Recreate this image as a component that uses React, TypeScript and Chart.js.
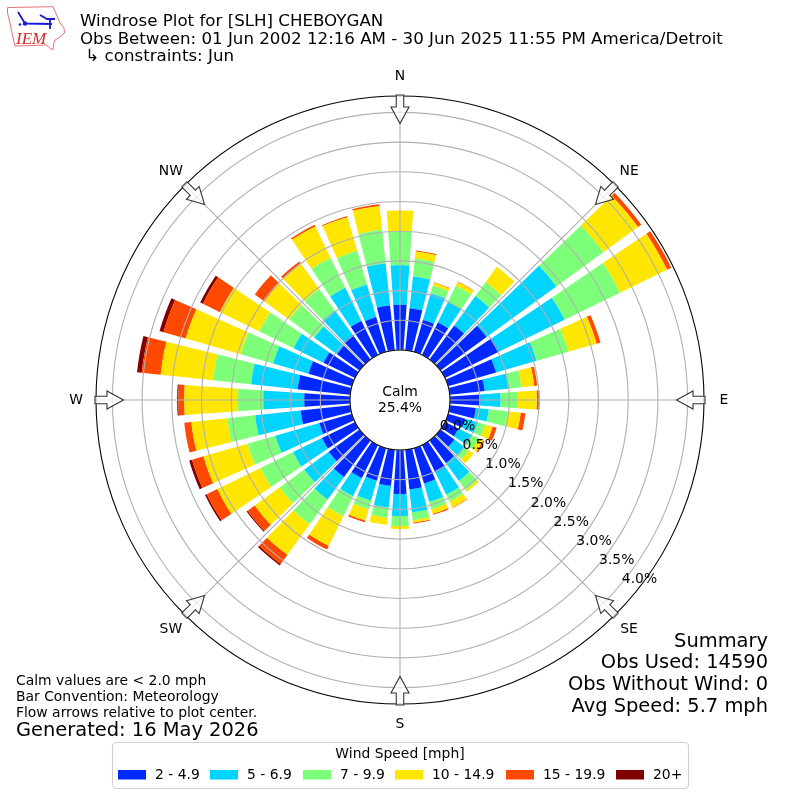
import React, { useEffect, useRef } from "react";
import { Chart, registerables, PolarAreaController } from "chart.js";

const compassLabels = ["N", "NE", "E", "SE", "S", "SW", "W", "NW"];
const directions = [0, 10, 20, 30, 40, 50, 60, 70, 80, 90, 100, 110, 120, 130, 140, 150, 160, 170, 180, 190, 200, 210, 220, 230, 240, 250, 260, 270, 280, 290, 300, 310, 320, 330, 340, 350];
const speedLabels = ["2 - 4.9", "5 - 6.9", "7 - 9.9", "10 - 14.9", "15 - 19.9", "20+"];
const speedColors = ["#0028ff", "#00d4ff", "#7dff7a", "#ffe600", "#ff4800", "#800000"];
const s2to5 = [.76, .71, .56, .61, .71, .96, 1.01, .84, .59, .51, .44, .30, .25, .29, .47, .51, .62, .67, .74, .61, .57, .62, .76, .64, .62, .57, .84, .77, .89, .76, .59, .47, .51, .64, .61, .76];
const s5to7 = [.67, .54, .47, .39, .61, 1.45, 1.23, .71, .40, .34, .22, .22, .25, .20, .37, .42, .32, .39, .37, .37, .35, .34, .47, .51, .54, .77, .77, .69, .79, .62, .56, .47, .51, .62, .57, .71];
const s7to10 = [.57, .30, .13, .30, .29, .98, 1.04, .56, .22, .29, .32, .13, .13, .10, .19, .13, .13, .13, .17, .17, .15, .37, .51, .51, .61, .49, .47, .44, .64, .57, .64, .52, .45, .56, .59, .57];
const s10to15 = [.35, .12, .05, .07, .32, .72, .88, .49, .22, .32, .22, .13, .08, .10, .04, .11, .08, .04, .05, .12, .20, .56, .64, .52, .81, .77, .61, .89, .89, .96, .74, .52, .52, .59, .59, .40];
const s15to20 = [0, .02, .01, .01, 0, .07, .08, .07, .05, .05, .08, .07, .03, 0, 0, .01, .02, .02, 0, 0, .03, .07, .19, .15, .20, .20, .12, .10, .32, .39, .32, .20, .05, .03, .02, .03];
const s20plus = [0, 0, 0, 0, 0, 0, 0, 0, 0, 0, 0, 0, 0, 0, 0, 0, 0, 0, 0, 0, 0, 0, .03, .02, .03, .05, 0, .02, .08, .07, .05, 0, 0, 0, 0, 0];
const seriesValues = [s2to5, s5to7, s7to10, s10to15, s15to20, s20plus];
const radialTicks = [0, 0.5, 1, 1.5, 2, 2.5, 3, 3.5, 4];

const titleLines = [
  "Windrose Plot for [SLH] CHEBOYGAN",
  "Obs Between: 01 Jun 2002 12:16 AM - 30 Jun 2025 11:55 PM America/Detroit",
  " ↳ constraints: Jun",
];
const summaryLines = ["Summary", "Obs Used: 14590", "Obs Without Wind: 0", "Avg Speed: 5.7 mph"];
const noteLines = ["Calm values are < 2.0 mph", "Bar Convention: Meteorology", "Flow arrows relative to plot center."];
const generatedText = "Generated: 16 May 2026";
const calmLines = ["Calm", "25.4%"];
const legendTitle = "Wind Speed [mph]";

const BAR_WIDTH_DEG = 8;
const FONT = '"DejaVu Sans"';
const R_MIN = -50 / 59.4;
const R_MAX = 254 / 59.4;

class StackedRoseController extends PolarAreaController {
  static id = "stackedRose";
  updateElements(arcs: any[], start: number, count: number, mode: any) {
    const scale = (this as any)._cachedMeta.rScale;
    const datasets = this.chart.data.datasets;
    const own = datasets[this.index].data as number[];
    for (let i = start; i < start + count; i++) {
      let base = 0;
      for (let k = 0; k < this.index; k++) base += Number(datasets[k].data[i]);
      const mid = ((directions[i] - 90) * Math.PI) / 180;
      const half = ((BAR_WIDTH_DEG / 2) * Math.PI) / 180;
      this.updateElement(
        arcs[i],
        i,
        {
          x: scale.xCenter,
          y: scale.yCenter,
          innerRadius: scale.getDistanceFromCenterForValue(base),
          outerRadius: scale.getDistanceFromCenterForValue(base + own[i]),
          startAngle: mid - half,
          endAngle: mid + half,
          circumference: 2 * half,
          options: this.resolveDataElementOptions(i, mode),
        } as any,
        mode
      );
    }
  }
}

Chart.register(...registerables, StackedRoseController as any);

function text(ctx: CanvasRenderingContext2D, s: string, x: number, y: number, size: number, align: CanvasTextAlign = "left") {
  ctx.font = `${size}px ${FONT}`;
  ctx.textAlign = align;
  ctx.textBaseline = "alphabetic";
  ctx.fillStyle = "#000";
  ctx.fillText(s, x, y);
}

function drawLogo(ctx: CanvasRenderingContext2D) {
  ctx.save();
  const outline = [[7.5, 7.5], [53, 6.7], [55, 11.5], [60, 23], [64, 28], [64.5, 33], [60, 37], [55, 40], [53.3, 45], [53.3, 49.5], [50, 48.5], [46.7, 45], [15, 46], [13.5, 40], [10, 23], [7.5, 13]];
  ctx.beginPath();
  outline.forEach(([x, y], i) => (i ? ctx.lineTo(x, y) : ctx.moveTo(x, y)));
  ctx.closePath();
  ctx.strokeStyle = "#e57373";
  ctx.lineWidth = 1;
  ctx.stroke();
  ctx.strokeStyle = "#1a1ad6";
  ctx.fillStyle = "#1a1ad6";
  ctx.lineWidth = 1.8;
  ctx.beginPath();
  ctx.moveTo(25, 23.5);
  ctx.lineTo(52, 24);
  ctx.moveTo(18, 12);
  ctx.lineTo(25, 23.5);
  ctx.moveTo(40, 15);
  ctx.lineTo(47, 19);
  ctx.lineTo(55, 19);
  ctx.moveTo(50, 19);
  ctx.lineTo(50, 29);
  ctx.stroke();
  ctx.beginPath();
  ctx.arc(25, 23.5, 2.2, 0, Math.PI * 2);
  ctx.arc(20, 24.5, 1.3, 0, Math.PI * 2);
  ctx.fill();
  ctx.font = 'italic 17px "Liberation Serif"';
  ctx.fillStyle = "#d62828";
  ctx.textAlign = "left";
  ctx.textBaseline = "alphabetic";
  ctx.fillText("IEM", 16, 44);
  ctx.restore();
}

function drawArrow(ctx: CanvasRenderingContext2D, cx: number, cy: number, angle: number) {
  // angle: scale's canvas angle; the arrow points toward the centre
  ctx.save();
  ctx.translate(cx, cy);
  ctx.rotate(angle);
  const pts = [[305, -3.7], [293, -3.7], [293, -9], [276.5, 0], [293, 9], [293, 3.7], [305, 3.7]];
  ctx.beginPath();
  pts.forEach(([x, y], i) => (i ? ctx.lineTo(x, y) : ctx.moveTo(x, y)));
  ctx.closePath();
  ctx.fillStyle = "rgba(255,255,255,0.75)";
  ctx.fill();
  ctx.strokeStyle = "#333";
  ctx.lineWidth = 1.1;
  ctx.lineJoin = "miter";
  ctx.stroke();
  ctx.restore();
}

const decorPlugin = {
  id: "decor",
  afterDraw(chart: any) {
    const ctx: CanvasRenderingContext2D = chart.ctx;
    const scale = chart.scales.r;
    const cx = scale.xCenter;
    const cy = scale.yCenter;
    ctx.save();
    // outer spine
    ctx.beginPath();
    ctx.arc(cx, cy, scale.drawingArea, 0, Math.PI * 2);
    ctx.strokeStyle = "#000";
    ctx.lineWidth = 1.1;
    ctx.stroke();
    // calm hole
    ctx.beginPath();
    ctx.arc(cx, cy, scale.getDistanceFromCenterForValue(0), 0, Math.PI * 2);
    ctx.fillStyle = "#fff";
    ctx.fill();
    ctx.strokeStyle = "#000";
    ctx.lineWidth = 1.1;
    ctx.stroke();
    text(ctx, calmLines[0], cx, cy - 4, 13.9, "center");
    text(ctx, calmLines[1], cx, cy + 12, 13.9, "center");
    // flow arrows and compass names
    compassLabels.forEach((lab, i) => {
      const a = scale.getIndexAngle(i) - Math.PI / 2;
      drawArrow(ctx, cx, cy, a);
      const p = scale.getPointPosition(i, 324);
      ctx.font = `13.9px ${FONT}`;
      ctx.textAlign = "center";
      ctx.textBaseline = "middle";
      ctx.fillStyle = "#000";
      ctx.fillText(lab, p.x, p.y);
    });
    // radial tick labels along the 130 degree bearing
    const tickAngle = (40 * Math.PI) / 180;
    radialTicks.forEach((v) => {
      const r = scale.getDistanceFromCenterForValue(v);
      text(ctx, `${v.toFixed(1)}%`, cx + r * Math.cos(tickAngle) + 1.5, cy + r * Math.sin(tickAngle) - 2, 13.9);
    });
    // title
    titleLines.forEach((l, i) => text(ctx, l, 80, 26 + i * 17.5, 16.67));
    // summary
    summaryLines.forEach((l, i) => text(ctx, l, 768, 646.7 + i * 21.7, 19.44, "right"));
    // notes
    noteLines.forEach((l, i) => text(ctx, l, 16, 685 + i * 16, 13.9));
    text(ctx, generatedText, 16, 736, 19.44);
    // legend
    ctx.beginPath();
    ctx.roundRect(112.5, 742.5, 576, 46, 4);
    ctx.fillStyle = "rgba(255,255,255,0.8)";
    ctx.fill();
    ctx.strokeStyle = "#d0d0d0";
    ctx.lineWidth = 1.1;
    ctx.stroke();
    text(ctx, legendTitle, 400, 758, 13.9, "center");
    const swatchX = [118, 210, 303, 395, 506, 616];
    speedLabels.forEach((l, i) => {
      ctx.fillStyle = speedColors[i];
      ctx.fillRect(swatchX[i], 770, 28, 9.5);
      text(ctx, l, swatchX[i] + 37, 779, 13.9);
    });
    drawLogo(ctx);
    ctx.restore();
  },
};

export default function App() {
  const ref = useRef<HTMLCanvasElement | null>(null);
  useEffect(() => {
    const chart = new Chart(ref.current as HTMLCanvasElement, {
      type: "stackedRose" as any,
      data: {
        labels: compassLabels,
        datasets: seriesValues.map((data, i) => ({
          label: speedLabels[i],
          data,
          backgroundColor: speedColors[i],
          borderWidth: 0,
        })),
      },
      options: {
        animation: false,
        responsive: false,
        layout: { padding: 96 },
        plugins: { legend: { display: false }, title: { display: false }, tooltip: { enabled: false } },
        scales: {
          r: {
            type: "radialLinear",
            min: R_MIN,
            max: R_MAX,
            startAngle: 0,
            afterBuildTicks: (s: any) => {
              s.ticks = radialTicks.map((value) => ({ value }));
            },
            ticks: { display: false },
            pointLabels: { display: false },
            angleLines: { display: true, color: "#b0b0b0", lineWidth: 1.1 },
            grid: { circular: true, color: "#b0b0b0", lineWidth: 1.1, z: 1 },
          } as any,
        },
      } as any,
      plugins: [decorPlugin as any],
    });
    return () => chart.destroy();
  }, []);
  return (
    <div style={{ position: "fixed", left: 0, top: 0, width: 800, height: 800, background: "#fff" }}>
      <canvas ref={ref} width={800} height={800} style={{ display: "block" }} />
    </div>
  );
}
